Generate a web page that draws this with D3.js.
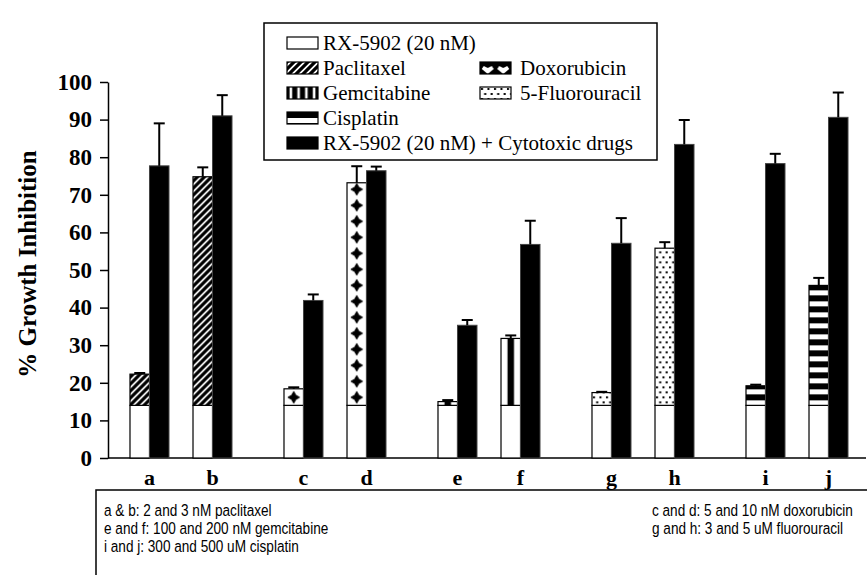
<!DOCTYPE html>
<html>
<head>
<meta charset="utf-8">
<script src="https://cdn.jsdelivr.net/npm/d3@7"></script>
<style>
  body { margin: 0; background: #fff; }
  svg { display: block; }
</style>
</head>
<body>
<div id="chart"></div>
<script>
// Chart values
const letters    = ["a", "b", "c", "d", "e", "f", "g", "h", "i", "j"];
const drugs      = ["Paclitaxel", "Paclitaxel", "Doxorubicin", "Doxorubicin", "Gemcitabine",
                    "Gemcitabine", "5-Fluorouracil", "5-Fluorouracil", "Cisplatin", "Cisplatin"];
const rxAlone    = [14, 14, 14, 14, 14, 14, 14, 14, 14, 14];
const drugTotal  = [22.3, 74.8, 18.4, 73.2, 15.0, 31.8, 17.4, 55.8, 19.2, 45.9];
const drugSd     = [0.3, 2.5, 0.4, 4.4, 0.4, 0.8, 0.2, 1.6, 0.3, 2.0];
const comboMean  = [77.7, 91.0, 41.9, 76.4, 35.3, 56.8, 57.1, 83.4, 78.3, 90.6];
const comboSd    = [11.3, 5.5, 1.6, 1.1, 1.4, 6.3, 6.7, 6.5, 2.6, 6.6];
const yTicks     = [0, 10, 20, 30, 40, 50, 60, 70, 80, 90, 100];
const legendCol1 = ["RX-5902 (20 nM)", "Paclitaxel", "Gemcitabine", "Cisplatin", "RX-5902 (20 nM) + Cytotoxic drugs"];
const legendCol2 = ["Doxorubicin", "5-Fluorouracil"];
const notesLeft  = ["a & b: 2 and 3 nM paclitaxel", "e and f: 100 and 200 nM gemcitabine", "i and j: 300 and 500 uM cisplatin"];
const notesRight = ["c and d: 5 and 10 nM doxorubicin", "g and h: 3 and 5 uM fluorouracil"];

const W = 867, H = 575;
const serif = "'Liberation Serif', 'Times New Roman', serif";

const svg = d3.select("#chart").append("svg")
    .attr("width", W)
    .attr("height", H);

const defs = svg.append("defs");

// Scales
const y = d3.scaleLinear().domain([0, 100]).range([458, 82]);
const groupScale = d3.scaleBand().domain(d3.range(letters.length / 2)).range([104, 874]);
const pairScale = d3.scaleBand().domain([0, 1]).range([0, groupScale.bandwidth()]).paddingOuter(0.222);
const sideScale = d3.scaleBand().domain(["drug", "combo"]).range([-19.5, 19.5]);
const barW = sideScale.bandwidth();
const cx = (i) => groupScale(Math.floor(i / 2)) + pairScale(i % 2) + pairScale.bandwidth() / 2;

//Build a fill pattern for one drug, anchored at (x0, y0)
function makePattern(id, drug, x0, y0, w, invert)
{
    const fg = invert ? "#fff" : "#000", bg = invert ? "#000" : "#fff";
    let tw = 7, th = 7;
    if (drug == "Doxorubicin") { tw = invert ? w / 2 : w; th = 16; }
    if (drug == "Gemcitabine") { tw = invert ? w / 4 : w; th = 10; }
    if (drug == "5-Fluorouracil") { tw = 6.5; th = 10; }
    if (drug == "Cisplatin") { tw = 10; th = 11; }

    const p = defs.append("pattern")
        .attr("id", id)
        .attr("patternUnits", "userSpaceOnUse")
        .attr("x", x0).attr("y", y0)
        .attr("width", tw).attr("height", th);
    p.append("rect").attr("width", tw).attr("height", th).attr("fill", bg);

    if (drug == "Paclitaxel") {
        p.append("path")
            .attr("d", "M-2,2 L2,-2 M0,7 L7,0 M5,9 L9,5")
            .attr("stroke", fg).attr("stroke-width", 3.2);
    } else if (drug == "Doxorubicin") {
        p.append("path")
            .attr("transform", "translate(" + tw / 2 + "," + th / 2 + ")")
            .attr("d", invert ? "M0,4 L-6,-1 L-4,-4 L0,-2 L4,-4 L6,-1Z"
                              : "M0,-5.5 L2,-2 L5.5,0 L2,2 L0,5.5 L-2,2 L-5.5,0 L-2,-2Z")
            .attr("fill", fg)
            .attr("stroke", fg).attr("stroke-width", invert ? 0 : 1.2).attr("stroke-linejoin", "round");
    } else if (drug == "Gemcitabine") {
        p.append("rect").attr("x", tw / 3).attr("width", tw / 3).attr("height", th).attr("fill", fg);
    } else if (drug == "5-Fluorouracil") {
        p.append("rect").attr("x", 1).attr("y", 1).attr("width", 2).attr("height", 2).attr("fill", fg);
        p.append("rect").attr("x", 4.2).attr("y", 6).attr("width", 2).attr("height", 2).attr("fill", fg);
    } else if (drug == "Cisplatin") {
        p.append("rect").attr("y", 0).attr("width", tw).attr("height", 6).attr("fill", fg);
    }
}

const g = svg.append("g");

//Y axis
const yAxis = g.append("g")
    .attr("transform", "translate(108,0)")
    .call(d3.axisLeft(y).tickValues(yTicks).tickSize(8).tickSizeOuter(0).tickPadding(8));
yAxis.select(".domain").attr("stroke-width", 1.5);
yAxis.selectAll(".tick line").attr("stroke-width", 1.5);
yAxis.selectAll("text")
    .attr("font-family", serif)
    .attr("font-weight", "bold")
    .attr("font-size", 23)
    .attr("fill", "#000");

svg.append("text")
    .attr("transform", "translate(36," + 264 + ") rotate(-90)")
    .attr("text-anchor", "middle")
    .attr("font-family", serif)
    .attr("font-weight", "bold")
    .attr("font-size", 25)
    .text("% Growth Inhibition");

//Baseline
g.append("line")
    .attr("x1", 108).attr("x2", 866)
    .attr("y1", y(0)).attr("y2", y(0))
    .attr("stroke", "#000").attr("stroke-width", 1.5);

//Bars
const rows = letters.map((l, i) => ({
    letter: l, drug: drugs[i], base: rxAlone[i], total: drugTotal[i], sd: drugSd[i],
    combo: comboMean[i], comboSd: comboSd[i], x: cx(i)
}));

rows.forEach((d, i) => {
    makePattern("pat" + i, d.drug, d.x + sideScale("drug"), y(d.base), barW, false);
});

const bars = g.selectAll(".pair").data(rows).enter().append("g").attr("class", "pair");

bars.append("rect")
    .attr("x", d => d.x + sideScale("drug"))
    .attr("y", d => y(d.base))
    .attr("width", barW)
    .attr("height", d => y(0) - y(d.base))
    .attr("fill", "#fff").attr("stroke", "#000").attr("stroke-width", 1.2);

bars.append("rect")
    .attr("x", d => d.x + sideScale("drug"))
    .attr("y", d => y(d.total))
    .attr("width", barW)
    .attr("height", d => y(d.base) - y(d.total))
    .attr("fill", (d, i) => "url(#pat" + i + ")")
    .attr("stroke", "#000").attr("stroke-width", 1.2);

bars.append("rect")
    .attr("x", d => d.x + sideScale("combo"))
    .attr("y", d => y(d.combo))
    .attr("width", barW)
    .attr("height", d => y(0) - y(d.combo))
    .attr("fill", "#000").attr("stroke", "#444").attr("stroke-width", 1);

//Error bars (upper only)
function errorBar(sel, xf, topf, sdf)
{
    sel.append("line")
        .attr("x1", xf).attr("x2", xf)
        .attr("y1", d => y(topf(d))).attr("y2", d => y(topf(d) + sdf(d)))
        .attr("stroke", "#000").attr("stroke-width", 2);
    sel.append("line")
        .attr("x1", d => xf(d) - 5.5).attr("x2", d => xf(d) + 5.5)
        .attr("y1", d => y(topf(d) + sdf(d))).attr("y2", d => y(topf(d) + sdf(d)))
        .attr("stroke", "#000").attr("stroke-width", 2);
}
errorBar(bars, d => d.x + sideScale("drug") + barW / 2, d => d.total, d => d.sd);
errorBar(bars, d => d.x + sideScale("combo") + barW / 2, d => d.combo, d => d.comboSd);

//X labels
bars.append("text")
    .attr("x", d => d.x)
    .attr("y", 485)
    .attr("text-anchor", "middle")
    .attr("font-family", serif)
    .attr("font-weight", "bold")
    .attr("font-size", 22)
    .text(d => d.letter);

//Legend
const lg = svg.append("g");
lg.append("rect")
    .attr("x", 264).attr("y", 23).attr("width", 393).attr("height", 137)
    .attr("fill", "#fff").attr("stroke", "#000").attr("stroke-width", 1.5);

const rowY = d3.scalePoint().domain(d3.range(5)).range([43, 143]);
const swW = 31, swH = 12;

function swatch(x, row, kind)
{
    const sy = rowY(row) - swH / 2;
    let fill = "#fff";
    if (kind == "combo") fill = "#000";
    else if (kind != "rx") {
        const id = "leg" + kind.replace(/[^A-Za-z]/g, "");
        makePattern(id, kind, x, sy, swW, kind == "Doxorubicin" || kind == "Gemcitabine");
        fill = "url(#" + id + ")";
    }
    lg.append("rect")
        .attr("x", x).attr("y", sy).attr("width", swW).attr("height", swH)
        .attr("fill", fill).attr("stroke", "#000").attr("stroke-width", 1.2);
}

const col1Kinds = ["rx", "Paclitaxel", "Gemcitabine", "Cisplatin", "combo"];
legendCol1.forEach((t, i) => {
    swatch(287, i, col1Kinds[i]);
    lg.append("text")
        .attr("x", 323).attr("y", rowY(i) + 7)
        .attr("font-family", serif).attr("font-size", 21)
        .text(t);
});
legendCol2.forEach((t, i) => {
    swatch(480, i + 1, t);
    lg.append("text")
        .attr("x", 520).attr("y", rowY(i + 1) + 7)
        .attr("font-family", serif).attr("font-size", 21)
        .text(t);
});

//Note box under the axis
const nb = svg.append("g");
nb.append("rect")
    .attr("x", 96).attr("y", 490).attr("width", 780).attr("height", 100)
    .attr("fill", "none").attr("stroke", "#000").attr("stroke-width", 1.5);

const noteY = d3.scalePoint().domain(d3.range(3)).range([516, 552]);
const noteFont = "'Liberation Sans', Arial, sans-serif";
function note(t, x, yy)
{
    nb.append("text")
        .attr("transform", "translate(" + x + "," + yy + ") scale(0.8,1)")
        .attr("font-family", noteFont).attr("font-size", 17)
        .text(t);
}
notesLeft.forEach((t, i) => note(t, 104, noteY(i)));
notesRight.forEach((t, i) => note(t, 652, noteY(i)));
</script>
</body>
</html>
